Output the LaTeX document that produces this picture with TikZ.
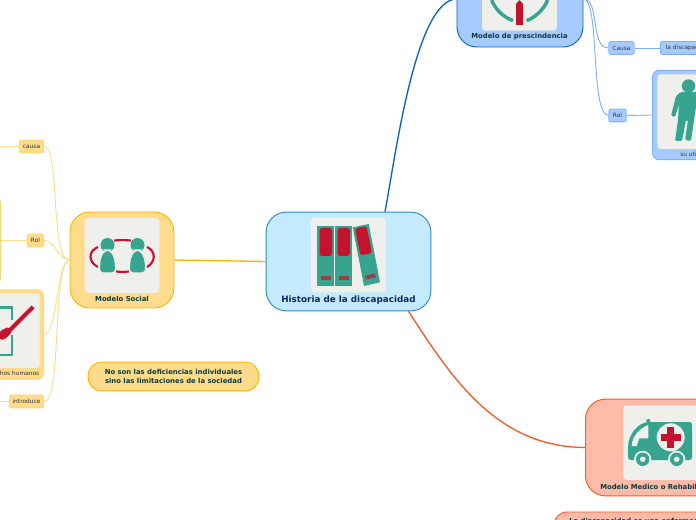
\documentclass[tikz,border=0pt]{standalone}
\usepackage{fontspec}
\setmainfont{DejaVu Sans}
\usetikzlibrary{positioning, calc}
\definecolor{MapRoot}{HTML}{C5EAFE}
\definecolor{MapRootLine}{HTML}{2D8BD3}
\definecolor{MapBlue}{HTML}{A6CBFE}
\definecolor{MapBlueLine}{HTML}{0B5FC6}
\definecolor{MapBlueTie}{HTML}{7FB0F5}
\definecolor{MapGold}{HTML}{FEDC8C}
\definecolor{MapGoldLine}{HTML}{FFB300}
\definecolor{MapGoldTie}{HTML}{FEDC8C}
\definecolor{MapRed}{HTML}{FBBBA8}
\definecolor{MapRedLine}{HTML}{F9592A}
\definecolor{MapIcon}{HTML}{EFF0EC}
\definecolor{MapTeal}{HTML}{36A48E}
\definecolor{MapCrimson}{HTML}{C4122F}
\definecolor{MapInk}{HTML}{0A3A3C}
\definecolor{MapNavy}{HTML}{0A2A5E}
\tikzset{
    % Main topic box
    topic/.style={
        rectangle,
        rounded corners=15pt,
        line width=0.7pt,
        inner sep=0pt
    },
    % Small label on a branch
    tag/.style={
        rectangle,
        rounded corners=1.5pt,
        line width=0.6pt,
        inner sep=0pt,
        minimum height=9.6pt,
        font=\fontsize{4.4}{5}\selectfont,
        text=black!80
    },
    % Grey square behind a picture
    iconbox/.style={
        rectangle,
        fill=MapIcon,
        rounded corners=2.5pt,
        inner sep=0pt,
        minimum width=56pt,
        minimum height=56pt
    },
    % Bold caption
    caption/.style={
        font=\fontsize{5.15}{7}\selectfont\bfseries,
        text=MapInk,
        inner sep=0pt
    },
    goldtag/.style={tag, draw=MapGoldLine!55, fill=MapGold},
    bluetag/.style={tag, draw=MapBlueTie, fill=MapBlue},
    goldtie/.style={draw=MapGoldTie, line width=0.7pt},
    bluetie/.style={draw=MapBlueTie, line width=0.7pt},
    mainlink/.style={line width=1pt}
}
\begin{document}
\begin{tikzpicture}[x=0.75pt, y=-0.75pt]
    \clip (0,0) rectangle (696,520);

    % Main boxes
    \node (root) [topic, draw=MapRootLine, fill=MapRoot, minimum width=123.5pt, minimum height=74pt] at (348.5,261.5) {};
    \node (social) [topic, draw=MapGoldLine, fill=MapGold, minimum width=78pt, minimum height=72pt] at (122,260) {};
    \node (presc) [topic, draw=MapBlueLine, fill=MapBlue, minimum width=94.5pt, minimum height=72pt] at (520,-1) {};
    \node (medico) [topic, draw=MapRedLine, fill=MapRed, minimum width=110pt, minimum height=72.5pt, anchor=west] at (585,447.5) {};

    % Text only boxes
    \node (idea) [topic, rounded corners=10pt, draw=MapGoldLine, fill=MapGold, minimum width=128pt, minimum height=21.5pt, align=center, caption] at (173.5,376.5) {No son las deficiencias individuales\\sino las limitaciones de la sociedad};
    \node (bajo) [topic, rounded corners=10pt, draw=MapRedLine, fill=MapRed, minimum width=140pt, minimum height=21.5pt, anchor=north west] at (553.5,511.5) {};
    \node [caption, anchor=west] at (569,522) {La discapacidad es una enfermedad};

    % Branches of the left side
    \node (causa) [goldtag, minimum width=18.5pt] at (31.5,146.5) {causa};
    \node (rol) [goldtag, minimum width=12.5pt] at (35.5,240.5) {Rol};
    \node (intro) [goldtag, minimum width=26pt] at (26.5,401.5) {introduce};
    \node (rolbox) [topic, rounded corners=3pt, draw=MapGoldLine!55, fill=MapGold, minimum width=40pt, minimum height=64pt, anchor=east] at (1,240.5) {};
    \node (derechos) [topic, rounded corners=5pt, draw=MapGoldLine!55, fill=MapGold, minimum width=60pt, minimum height=67pt, anchor=east] at (44,334.5) {};
    \node (derechosicon) [iconbox, anchor=north east] at (40,293) {};
    \node [font=\fontsize{4.4}{5}\selectfont, text=black!80, inner sep=0pt, anchor=east] at (39.5,373) {derechos humanos};

    % Branches of the right side
    \node (causab) [bluetag, minimum width=19pt] at (621.5,48) {Causa};
    \node (rolb) [bluetag, minimum width=13pt] at (617.5,115.5) {Rol};
    \node (disc) [bluetag, minimum width=50pt, anchor=west, text width=48pt, align=left] at (660,48) {\hspace{3pt}la discapacidad};
    \node (util) [topic, rounded corners=5pt, draw=MapBlueTie, fill=MapBlue, minimum width=70pt, minimum height=67pt, anchor=west] at (652,115) {};
    \node (utilicon) [iconbox, anchor=north west] at (657,74) {};
    \node [font=\fontsize{4.4}{5}\selectfont, text=black!80, inner sep=0pt, anchor=west] at (680,154) {su utilidad};

    % Connectors
    \draw [draw=MapGoldLine, mainlink] (social.east) -- (root.west);
    \draw [draw=MapBlueLine, mainlink] (root.north) ++(36.5,0) coordinate (rootb) .. controls (395,160) and (415,0) .. (presc.west);
    \draw [draw=MapRedLine, mainlink] (root.south) ++(60,0) coordinate (rootr) .. controls (450,375) and (495,447) .. (medico.west);
    \draw [goldtie] (social.west) .. controls (50,260) and (60,146) .. (causa.east);
    \draw [goldtie] (social.west) .. controls (58,258) and (54,240) .. (rol.east);
    \draw [goldtie] (social.west) .. controls (56,262) and (58,334) .. (derechos.east);
    \draw [goldtie] (social.west) .. controls (52,262) and (62,402) .. (intro.east);
    \draw [goldtie] (rol.west) -- (rolbox.east);
    \draw [goldtie] (causa.west) -- ++(-19,0);
    \draw [goldtie] (intro.west) -- ++(-9,0);
    \draw [bluetie] (presc.east) .. controls (600,-1) and (590,48) .. (causab.west);
    \draw [bluetie] (presc.east) .. controls (600,-1) and (590,115) .. (rolb.west);
    \draw [bluetie] (causab.east) -- (disc.west);
    \draw [bluetie] (rolb.east) -- (util.west);

    % Grey squares of the pictures
    \node (rooticon) [iconbox] at (348.5,255) {};
    \node (socialicon) [iconbox] at (122,255.5) {};
    \node (prescicon) [iconbox, anchor=south] at (519.5,31) {};
    \node (medicoicon) [iconbox, anchor=north west] at (623,405) {};

    % Captions
    \node [caption, font=\fontsize{6.6}{8}\selectfont\bfseries, text=MapNavy] at (348.5,300) {Historia de la discapacidad};
    \node [caption] at (122,299) {Modelo Social};
    \node [caption] at (519.5,37) {Modelo de prescindencia};
    \node [caption, anchor=west] at (600,486.5) {Modelo Medico o Rehabilitador};

    % Binders
    \foreach \x in {317,335}{
        \fill [MapTeal] (\x,226) rectangle ++(17,60);
        \fill [MapCrimson, rounded corners=2pt] (\x+2.5,228) rectangle ++(12.5,28);
        \fill [MapCrimson!70!MapTeal] (\x+3.5,276) rectangle ++(10,4);
    }
    \fill [MapTeal] (352.7,227.3) -- (368.7,224) -- (380,282.3) -- (364,286) -- cycle;
    \fill [MapCrimson, rounded corners=2pt] (355,228.5) -- (366.5,226) -- (372,253) -- (360.5,255.5) -- cycle;
    \fill [MapCrimson!70!MapTeal] (365,275.5) -- (375,273.5) -- (375.8,277.5) -- (365.8,279.5) -- cycle;

    % Two people in a ring
    \draw [MapCrimson, line width=1.6pt] (98,247) .. controls (88,251) and (88,262) .. (98,267);
    \draw [MapCrimson, line width=1.6pt] (147,247) .. controls (156,251) and (156,262) .. (147,267);
    \draw [MapCrimson, line width=1.6pt] (114,240.5) .. controls (119,240) and (126,240) .. (131,240.5);
    \draw [MapCrimson, line width=1.6pt] (116,271.5) .. controls (120,272) and (125,272) .. (129,271.5);
    \foreach \x in {107.5,137.5}{
        \fill [MapTeal] (\x,245) circle (7);
        \filldraw [fill=MapTeal, draw=MapIcon, line width=1pt, rounded corners=3pt] (\x-8.5,273) -- (\x-7.5,258) -- (\x-3,250) -- (\x+3,250) -- (\x+7.5,258) -- (\x+8.5,273) -- cycle;
    }

    % Pen in a frame
    \draw [MapTeal, line width=1.8pt] (0,307.5) -- (12,307.5) -- (12,320);
    \draw [MapTeal, line width=1.8pt] (12,335) -- (12,355) -- (0,355);
    \draw [MapCrimson, line width=3pt] (33,307) -- (9,331);
    \fill [MapCrimson, rounded corners=1pt] (8,327) -- (0,331) -- (0,340) -- (5,339) -- (12,332) -- cycle;

    % Ring and column
    \draw [MapTeal, line width=2.6pt] (491.7,0) .. controls (495,9) and (503,17) .. (513,20.7);
    \draw [MapTeal, line width=2.6pt] (547.7,0) .. controls (544,9) and (536,17) .. (526.7,20.7);
    \fill [MapCrimson] (516,25) -- (516,4) -- (519.5,0) -- (523,4) -- (523,25) -- cycle;

    % Standing man
    \fill [MapTeal] (688.5,86) circle (6.7);
    \fill [MapTeal, rounded corners=1pt] (681,92) -- (676,96) -- (671,116) -- (675,117) -- (679,104) -- (678,120) -- (675,141) -- (682,141) -- (686,120) -- (688,120) -- (685,140) -- (691,141) -- (694,120) -- (697,100) -- (697,92) -- cycle;

    % Ambulance
    \fill [MapTeal] (628,457) -- (628,448) .. controls (628,434) and (638,423) .. (648,422) -- (689,422) .. controls (691,422) and (692,423) .. (692,425) -- (692,457) .. controls (692,459) and (691,460) .. (689,460) -- (631,460) .. controls (629,460) and (628,459) .. (628,457) -- cycle;
    \fill [MapTeal] (648.3,421) circle (2.1);
    \fill [MapIcon] (631.7,446) .. controls (632,436) and (640,428) .. (648.3,425) -- (648.3,438.3) -- (639.3,438.3) -- (636.7,446) -- cycle;
    \fill [MapIcon] (670.7,437.3) circle (14);
    \fill [MapCrimson] (667.2,427) rectangle (674.2,447.5);
    \fill [MapCrimson] (660.5,434) rectangle (681,441);
    \foreach \x in {642.7,676.7}{
        \fill [MapIcon] (\x,459.3) circle (8.6);
        \fill [MapTeal] (\x,459.3) circle (6.7);
        \fill [MapIcon] (\x,459.3) circle (2.8);
    }
\end{tikzpicture}
\end{document}
